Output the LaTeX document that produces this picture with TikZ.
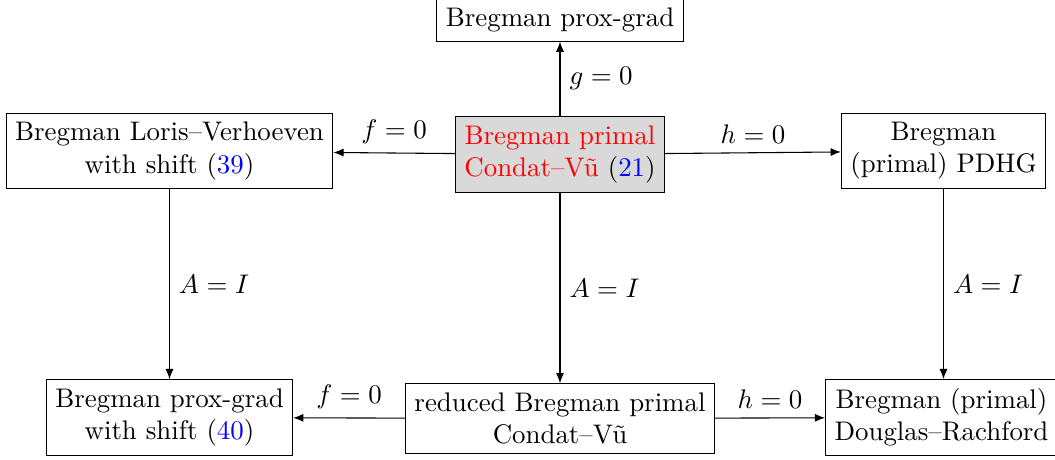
\documentclass[tikz,border=0pt]{standalone}
\usetikzlibrary{arrows.meta}
\begin{document}
\begin{tikzpicture}[x=0.372pt,y=-0.372pt,
  box/.style={draw, align=center},
  conn/.style={-{Latex[length=3.8pt,width=3pt]}}]
\useasboundingbox (0,0) rectangle (1055,459);
\node[box] (top) at (560,20) {Bregman prox-grad};
\node[box, fill=black!15, text=red] (c) at (560,154.5) {Bregman primal\\Condat--V\~u {\color{black}(}{\color{blue}21}{\color{black})}};
\node[box] (lv) at (169.5,151) {Bregman Loris--Verhoeven\\with shift ({\color{blue}39})};
\node[box] (pd) at (943.5,151) {Bregman\\(primal) PDHG};
\node[box] (bl) at (169.5,417.5) {Bregman prox-grad\\with shift ({\color{blue}40})};
\node[box] (red) at (560,418.5) {reduced Bregman primal\\Condat--V\~u};
\node[box] (dr) at (941.5,417.5) {Bregman (primal)\\Douglas--Rachford};
\draw[conn] (c) -- node[right] {$g=0$} (top);
\draw[conn] (c) -- node[above] {$f=0$} (lv);
\draw[conn] (c) -- node[above] {$h=0$} (pd);
\draw[conn] (c) -- node[right] {$A=I$} (red);
\draw[conn] (lv) -- node[right] {$A=I$} (bl);
\draw[conn] (pd.south) -- node[right] {$A=I$} (pd.south |- dr.north);
\draw[conn] (red) -- node[above] {$f=0$} (bl);
\draw[conn] (red) -- node[above] {$h=0$} (dr);
\end{tikzpicture}
\end{document}
